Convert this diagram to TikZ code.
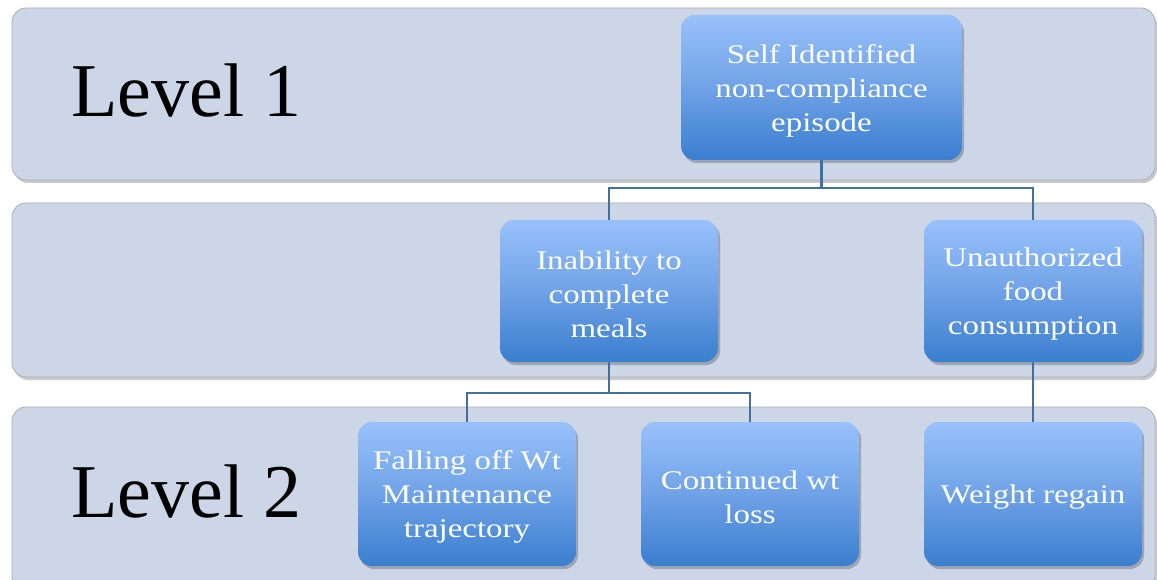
\documentclass[tikz,border=0pt]{standalone}
\usepackage{fontspec}
\setmainfont[FakeStretch=1.22]{Liberation Serif}
\newfontfamily\lvlfont{Liberation Serif}
\usetikzlibrary{shadows,calc}
\definecolor{bandfill}{HTML}{CDD6E6}
\definecolor{banddraw}{HTML}{A9AFB9}
\definecolor{boxtop}{HTML}{99C1FB}
\definecolor{boxmid}{HTML}{6FA2E6}
\definecolor{boxbot}{HTML}{3A7ECF}
\definecolor{linkcol}{HTML}{41709F}
\newcommand\boxlift{\rule{0pt}{25pt}}
\tikzset{
  band/.style={fill=bandfill, draw=banddraw, line width=0.8pt, rounded corners=14pt,
    drop shadow={shadow xshift=2pt, shadow yshift=-3pt, opacity=0.35, fill=black!60}},
  boxnode/.style={rectangle, rounded corners=14pt, top color=boxtop, bottom color=boxbot,
    middle color=boxmid, draw=none, text=white, align=center,
    font=\fontsize{27}{34}\selectfont, inner sep=0pt,
    drop shadow={shadow xshift=2pt, shadow yshift=-3pt, opacity=0.35, fill=black!70}},
  lvl/.style={font=\lvlfont\fontsize{76}{80}\selectfont, text=black, anchor=base west, inner sep=0pt},
  link/.style={draw=linkcol, line width=2.5pt}
}
\begin{document}
\begin{tikzpicture}[x=1pt,y=-1pt]
\useasboundingbox (0,0) rectangle (1157,580);
\fill[white] (0,0) rectangle (1157,580);
% bands
\path[band] (12,8) rectangle (1155,180);
\path[band] (12,203) rectangle (1155,377);
\path[band] (12,407) rectangle (1155,590);
% level labels
\node[lvl] (l1) at (71,117) {Level 1};
\node[lvl] (l2) at (71,517) {Level 2};
% connectors
\coordinate (j1) at (821.5,188);
\coordinate (j2) at (609,393);
% boxes
\node[boxnode, minimum width=281pt, minimum height=145pt] (top) at (821.5,87.5) {\boxlift Self Identified\\non-compliance\\episode};
\node[boxnode, minimum width=218pt, minimum height=142pt] (inab) at (609,291) {\boxlift Inability to\\complete\\meals};
\node[boxnode, minimum width=218pt, minimum height=142pt] (unauth) at (1033,291) {\boxlift Unauthorized\\food\\consumption};
\node[boxnode, minimum width=218pt, minimum height=144pt] (fall) at (467,494) {\boxlift Falling off Wt\\Maintenance\\trajectory};
\node[boxnode, minimum width=218pt, minimum height=144pt] (cont) at (750,494) {\boxlift Continued wt\\loss};
\node[boxnode, minimum width=218pt, minimum height=144pt] (wreg) at (1033,494) {\boxlift Weight regain};
\draw[link] (top.south) -- (j1) -| (inab.north);
\draw[link] (j1) -| (unauth.north);
\draw[link] (inab.south) -- (j2) -| (fall.north);
\draw[link] (j2) -| (cont.north);
\draw[link] (unauth.south) -- (wreg.north);
\end{tikzpicture}
\end{document}
